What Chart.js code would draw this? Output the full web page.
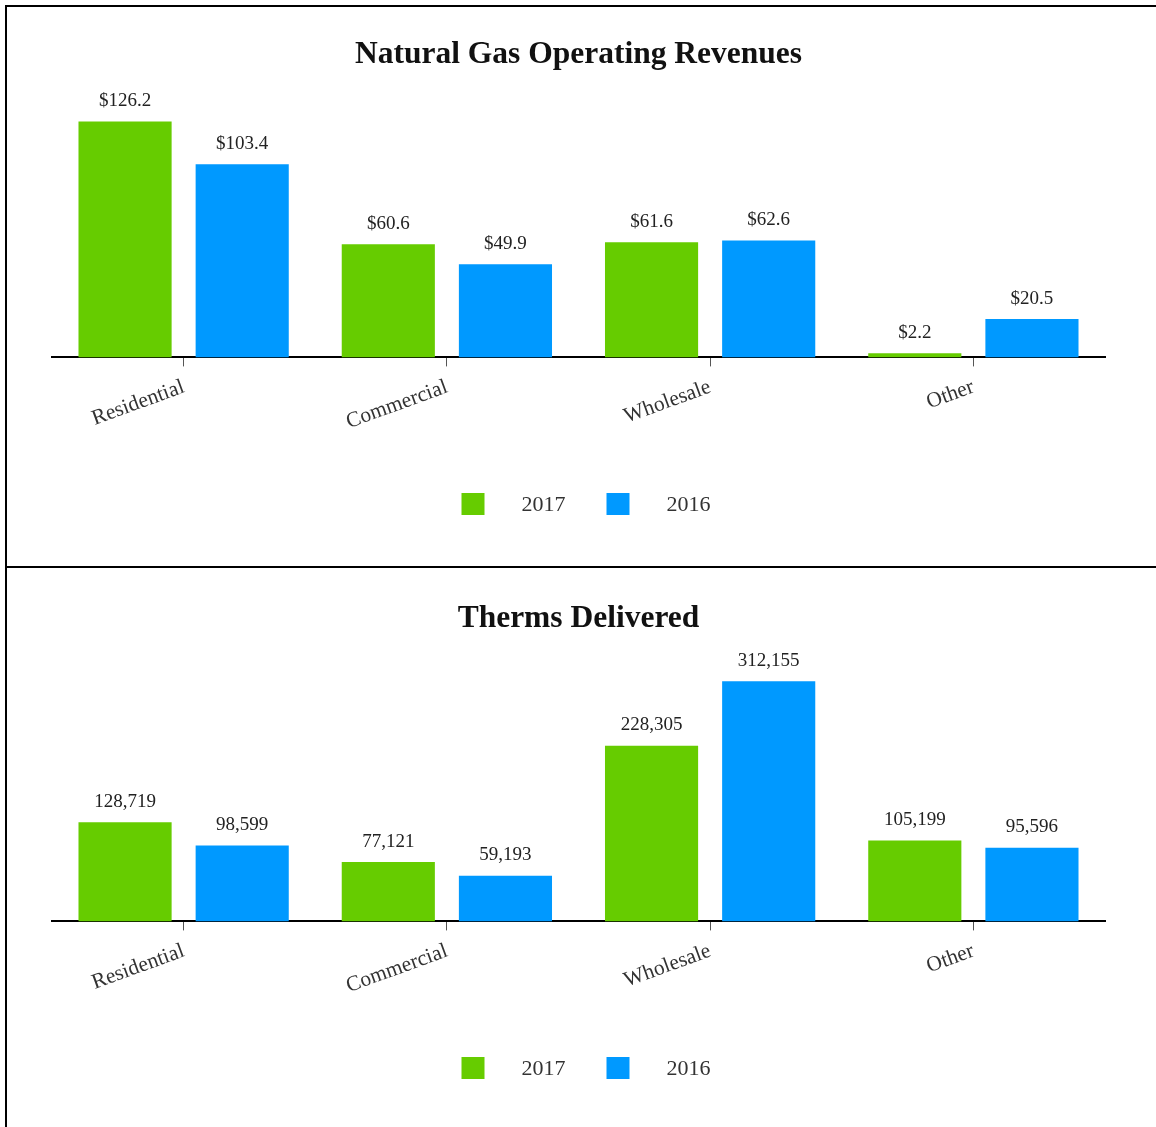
<!DOCTYPE html>
<html>
<head>
<meta charset="utf-8">
<script src="https://cdn.jsdelivr.net/npm/chart.js@4.4.1/dist/chart.umd.min.js"></script>
<style>
html, body { margin: 0; padding: 0; background: #fff; }
body { width: 1156px; height: 1127px; overflow: hidden; position: relative; }
.panel { position: absolute; left: 5px; width: 1200px; border-top: 2px solid #000; border-left: 2px solid #000; }
#p1 { top: 5px; height: 559px; }
#p2 { top: 566px; height: 561px; }
.box { width: 1149px; height: 559px; position: relative; }
</style>
</head>
<body>
<div class="panel" id="p1"><div class="box"><canvas id="revChart"></canvas></div></div>
<div class="panel" id="p2"><div class="box"><canvas id="thermChart"></canvas></div></div>

<script>
// categories / series
const categories = ['Residential', 'Commercial', 'Wholesale', 'Other'];
const seriesNames = ['2017', '2016'];

const revenue2017 = [126.2, 60.6, 61.6, 2.2];
const revenue2016 = [103.4, 49.9, 62.6, 20.5];

const therms2017 = [128719, 77121, 228305, 105199];
const therms2016 = [98599, 59193, 312155, 95596];

const GREEN = '#66cc00';
const BLUE = '#0099ff';
const SERIF = '"Liberation Serif", "Times New Roman", serif';

// value labels above each bar
const valueLabels = {
    id: 'valueLabels',
    afterDatasetsDraw(chart, args, opts) {
        const ctx = chart.ctx;
        ctx.save();
        ctx.font = '19px ' + SERIF;
        ctx.fillStyle = '#222';
        ctx.textAlign = 'center';
        ctx.textBaseline = 'bottom';
        chart.data.datasets.forEach((ds, i) => {
            chart.getDatasetMeta(i).data.forEach((bar, j) => {
                ctx.fillText(opts.format(ds.data[j]), bar.x, bar.y - 11);
            });
        });
        ctx.restore();
    }
};

// legend at the bottom, wide gaps like the original
const bottomLegend = {
    id: 'bottomLegend',
    afterDraw(chart, args, opts) {
        const ctx = chart.ctx;
        const box = 22, gapText = 38, gapItem = 41;
        ctx.save();
        ctx.font = '22px ' + SERIF;
        ctx.textBaseline = 'middle';
        ctx.textAlign = 'left';
        const items = chart.data.datasets.map(ds => ({ label: ds.label, color: ds.backgroundColor, w: ctx.measureText(ds.label).width }));
        let total = 0;
        items.forEach((it, i) => { total += box + gapText + it.w + (i < items.length - 1 ? gapItem : 0); });
        let x = opts.centerX - total / 2;
        const y = opts.y;
        items.forEach(it => {
            ctx.fillStyle = it.color;
            ctx.fillRect(x, y - box / 2, box + 1, box);
            x += box + gapText;
            ctx.fillStyle = '#333';
            ctx.fillText(it.label, x, y + 1);
            x += it.w + gapItem;
        });
        ctx.restore();
    }
};

function makeChart(id, title, a, b, yMax, fmt, padTop, padBottom, legendY) {
    return new Chart(document.getElementById(id), {
        type: 'bar',
        data: {
            labels: categories,
            datasets: [
                { label: seriesNames[0], data: a, backgroundColor: GREEN },
                { label: seriesNames[1], data: b, backgroundColor: BLUE }
            ]
        },
        plugins: [valueLabels, bottomLegend],
        options: {
            responsive: true,
            maintainAspectRatio: false,
            animation: false,
            events: [],
            categoryPercentage: 0.89,
            barPercentage: 0.795,
            layout: { padding: { left: 45, right: 51, top: padTop, bottom: padBottom } },
            plugins: {
                legend: { display: false },
                tooltip: { enabled: false },
                title: {
                    display: true,
                    text: title,
                    color: '#111',
                    font: { family: SERIF, size: 31.5, weight: 'bold' },
                    padding: { top: 29, bottom: 22 }
                },
                valueLabels: { format: fmt },
                bottomLegend: { centerX: 579, y: legendY }
            },
            scales: {
                x: {
                    offset: true,
                    border: { display: true, color: '#000', width: 2 },
                    grid: { display: true, offset: false, drawOnChartArea: false, drawTicks: true, tickLength: 9, color: '#555', lineWidth: 1 },
                    ticks: { color: '#333', font: { family: SERIF, size: 21.5 }, minRotation: 20, maxRotation: 20, padding: 8 }
                },
                y: {
                    display: false,
                    min: 0,
                    max: yMax
                }
            }
        }
    });
}

makeChart('revChart', 'Natural Gas Operating Revenues', revenue2017, revenue2016, 140,
    v => '$' + v.toFixed(1), 0, 123, 497);
makeChart('thermChart', 'Therms Delivered', therms2017, therms2016, 340000,
    v => v.toLocaleString('en-US'), 3, 120, 500);
</script>
</body>
</html>
